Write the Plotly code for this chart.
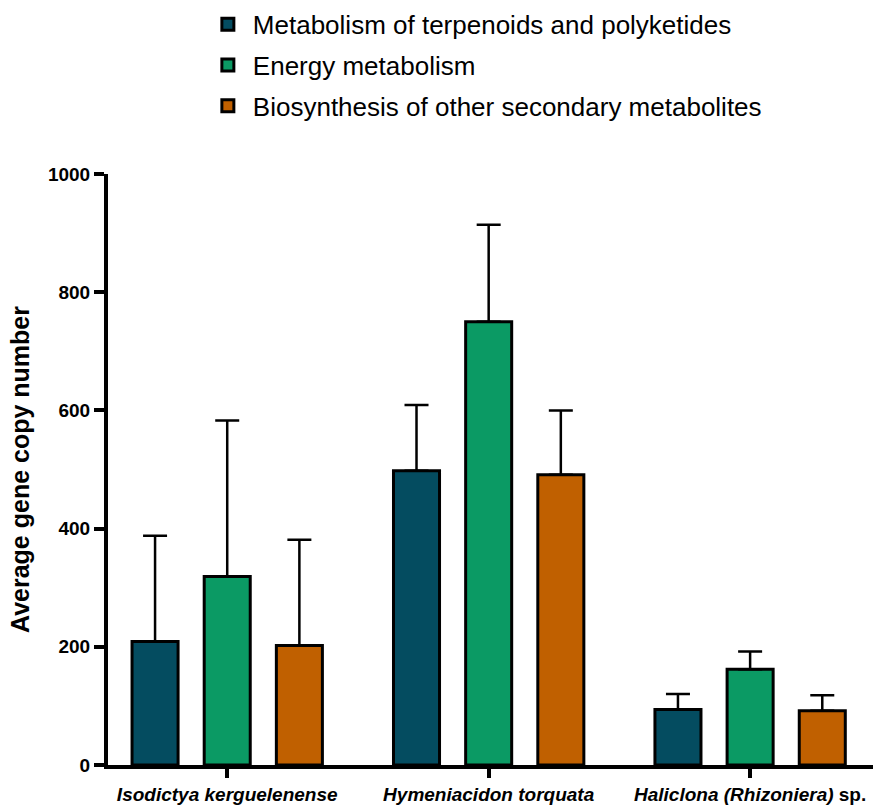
import plotly.graph_objects as go

categories = [
    "<b><i>Isodictya kerguelenense</i></b>",
    "<b><i>Hymeniacidon torquata</i></b>",
    "<b><i>Haliclona (Rhizoniera)</i> sp.</b>",
]
series_names = [
    "Metabolism of terpenoids and polyketides",
    "Energy metabolism",
    "Biosynthesis of other secondary metabolites",
]
terpenoids_mean = [209, 498, 94]
terpenoids_err = [179, 111, 26]
energy_mean = [319, 750, 162]
energy_err = [264, 164, 30]
biosynth_mean = [202, 491, 92]
biosynth_err = [179, 109, 26]
colors = ["#044C60", "#0B9A64", "#C06000"]
y_ticks = [0, 200, 400, 600, 800, 1000]

FONT = "Arial, Liberation Sans, sans-serif"

fig = go.Figure()
for i, (name, m, e) in enumerate(zip(
        series_names,
        [terpenoids_mean, energy_mean, biosynth_mean],
        [terpenoids_err, energy_err, biosynth_err])):
    fig.add_trace(go.Bar(
        x=categories, y=m, name=name, legendgroup=f"g{i}",
        marker=dict(color=colors[i], line=dict(color="black", width=3)),
        error_y=dict(type="data", symmetric=False, array=e,
                     arrayminus=[0] * len(e), color="black",
                     thickness=2.5, width=12),
    ))

fig.update_layout(
    width=873, height=805,
    margin=dict(l=108, r=0, t=174, b=38),
    paper_bgcolor="white", plot_bgcolor="white",
    barmode="group", bargap=0.172, bargroupgap=0.362,
    font=dict(family=FONT, color="black"),
    showlegend=True,
    legend=dict(x=0.124, y=1.293, xanchor="left", yanchor="top",
                font=dict(size=26, family=FONT, color="black"),
                tracegroupgap=4, itemwidth=40,
                bgcolor="rgba(0,0,0,0)"),
    xaxis=dict(
        type="category", range=[-0.456, 2.47],
        showline=True, linecolor="black", linewidth=4,
        ticks="outside", ticklen=9, tickwidth=4, tickcolor="black",
        tickfont=dict(size=19, family=FONT, color="black"),
        showgrid=False, zeroline=False,
    ),
    yaxis=dict(
        range=[0, 1000], tickvals=y_ticks,
        showline=True, linecolor="black", linewidth=4,
        ticks="outside", ticklen=10, tickwidth=4, tickcolor="black",
        tickfont=dict(size=19, family=FONT, color="black", weight="bold"),
        showgrid=False, zeroline=False,
        title=dict(text="<b>Average gene copy number</b>",
                   font=dict(size=25, family=FONT, color="black"),
                   standoff=12),
    ),
)

fig.write_html("out.html")
